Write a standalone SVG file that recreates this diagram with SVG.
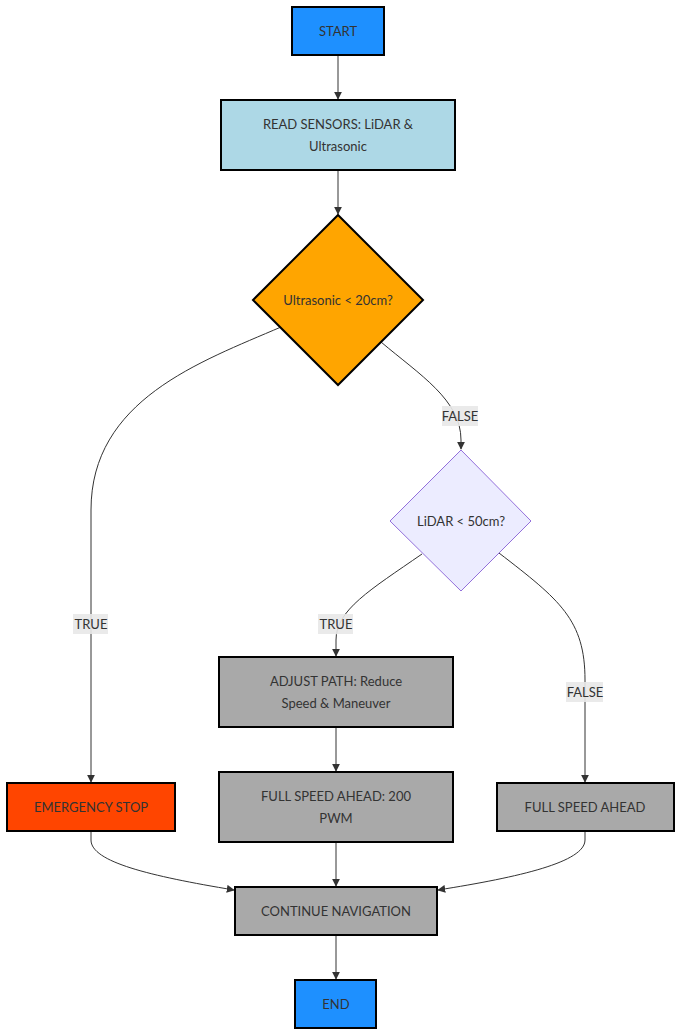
<svg xmlns="http://www.w3.org/2000/svg" width="693" height="1035" viewBox="0 0 693 1035">
  <style>
    text { font-family: Lato, "Liberation Sans", sans-serif; font-size: 13px; fill: #333; text-anchor: middle; dominant-baseline: central; }
    .box { stroke: #000; stroke-width: 2; }
    .blue { fill: #1E90FF; }
    .lightblue { fill: #ADD8E6; }
    .orange { fill: #FFA500; }
    .red { fill: #FF4500; }
    .gray { fill: #A9A9A9; }
    .decision { fill: #ECECFF; stroke: #9370DB; stroke-width: 1; }
    .edge { fill: none; stroke: #333; stroke-width: 1; marker-end: url(#arrow); }
    .lbl { fill: #e8e8e8; opacity: 0.9; }
  </style>
  <defs>
    <marker id="arrow" viewBox="0 0 10 10" refX="9" refY="5" markerWidth="8" markerHeight="8" markerUnits="userSpaceOnUse" orient="auto">
      <path d="M0,0 L10,5 L0,10 z" fill="#333"/>
    </marker>
  </defs>

  <g id="connectors">
    <path class="edge" d="M338,55 L338,99"/>
    <path class="edge" d="M338,170 L338,214"/>
    <path class="edge" d="M281,327 C200,362 91,400 91,510 L91,782"/>
    <path class="edge" d="M381,342 C420,375 461,400 461,440 L461,449"/>
    <path class="edge" d="M422,554 C370,590 336,610 336,640 L336,656"/>
    <path class="edge" d="M499,553 C560,600 585,620 585,680 L585,782"/>
    <path class="edge" d="M336,727 L336,771"/>
    <path class="edge" d="M91,831 L91,840 C91,862 150,876 234,890"/>
    <path class="edge" d="M336,842 L336,886"/>
    <path class="edge" d="M585,831 L585,840 C585,862 520,877 438,890"/>
    <path class="edge" d="M336,935 L336,979"/>

    <g id="edge-labels">
      <rect class="lbl" x="442" y="406" width="36" height="20"/>
      <text x="460" y="416">FALSE</text>
      <rect class="lbl" x="73" y="614" width="35" height="20"/>
      <text x="91" y="624">TRUE</text>
      <rect class="lbl" x="318" y="614" width="35" height="20"/>
      <text x="336" y="624">TRUE</text>
      <rect class="lbl" x="566" y="682" width="37" height="20"/>
      <text x="585" y="692">FALSE</text>
    </g>
  </g>

  <g id="start">
    <rect class="box blue" x="292" y="7" width="92" height="48"/>
    <text x="338" y="31">START</text>
  </g>
  <g id="read-sensors">
    <rect class="box lightblue" x="221" y="100" width="234" height="70"/>
    <text x="338" y="124">READ SENSORS: LiDAR &amp;</text>
    <text x="338" y="146">Ultrasonic</text>
  </g>
  <g id="ultrasonic-check">
    <polygon class="box orange" points="338,215 423,300 338,385 253,300"/>
    <text x="338" y="300">Ultrasonic &lt; 20cm?</text>
  </g>
  <g id="lidar-check">
    <polygon class="decision" points="461,450 531,521 461,591 390,521"/>
    <text x="461" y="521">LiDAR &lt; 50cm?</text>
  </g>
  <g id="emergency-stop">
    <rect class="box red" x="7" y="783" width="168" height="48"/>
    <text x="91" y="807">EMERGENCY STOP</text>
  </g>
  <g id="adjust-path">
    <rect class="box gray" x="219" y="657" width="234" height="70"/>
    <text x="336" y="681">ADJUST PATH: Reduce</text>
    <text x="336" y="703">Speed &amp; Maneuver</text>
  </g>
  <g id="full-speed-200">
    <rect class="box gray" x="219" y="772" width="234" height="70"/>
    <text x="336" y="796">FULL SPEED AHEAD: 200</text>
    <text x="336" y="818">PWM</text>
  </g>
  <g id="full-speed">
    <rect class="box gray" x="497" y="783" width="177" height="48"/>
    <text x="585" y="807">FULL SPEED AHEAD</text>
  </g>
  <g id="continue-navigation">
    <rect class="box gray" x="235" y="887" width="202" height="48"/>
    <text x="336" y="911">CONTINUE NAVIGATION</text>
  </g>
  <g id="end">
    <rect class="box blue" x="295" y="980" width="81" height="48"/>
    <text x="336" y="1004">END</text>
  </g>
</svg>
